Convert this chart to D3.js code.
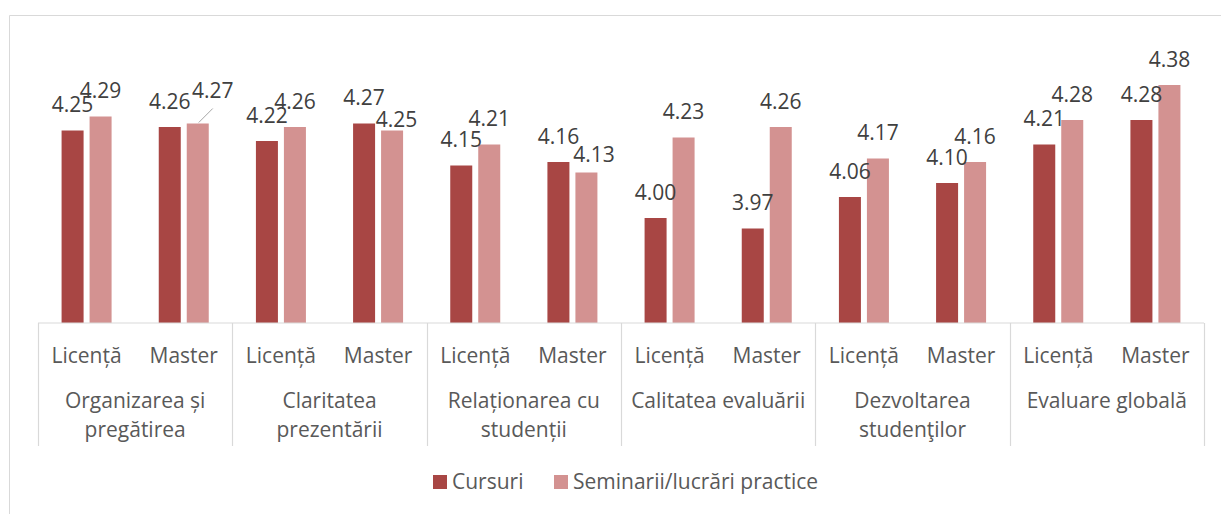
<!DOCTYPE html>
<html>
<head>
<meta charset="utf-8">
<script src="https://cdn.jsdelivr.net/npm/d3@7"></script>
<style>
  html, body { margin: 0; padding: 0; background: #fff; }
  svg { display: block; font-family: "Open Sans", sans-serif; }
</style>
</head>
<body>
<svg id="chart" width="1221" height="514"></svg>
<script>
// ---- data ----
const groups = ["Organizarea și\npregătirea", "Claritatea\nprezentării", "Relaționarea cu\nstudenții", "Calitatea evaluării", "Dezvoltarea\nstudenţilor", "Evaluare globală"];
const levels = ["Licență", "Master"];
const seriesNames = ["Cursuri", "Seminarii/lucrări practice"];
const cursuri   = [4.25, 4.26, 4.22, 4.27, 4.15, 4.16, 4.00, 3.97, 4.06, 4.10, 4.21, 4.28];
const seminarii = [4.29, 4.27, 4.26, 4.25, 4.21, 4.13, 4.23, 4.26, 4.17, 4.16, 4.28, 4.38];
const yDomain = [3.7, 4.4];

// ---- styling / layout ----
const colors = ["#A84644", "#D39291"];
const labelNudge = { "1-1": [15, -7.5, true], "1-3": [4.5, 14.5, false], "1-5": [7.5, 7.5, false] };
const fontSize = "21px";
const svg = d3.select("#chart");
const axisY = 323, left = 38, right = 1204;

// chart border
svg.append("path").attr("d", "M9.5,514 V15.5 H1221").attr("fill", "none").attr("stroke", "#D9D9D9").attr("stroke-width", 1);

const xGroup = d3.scaleBand().domain(d3.range(groups.length)).range([left, right]);
const xSub = d3.scaleBand().domain(levels).range([0, xGroup.bandwidth()]);
const y = d3.scaleLinear().domain(yDomain).range([axisY, 78]);

const series = [cursuri, seminarii];
const barsData = [];
series.forEach((vals, s) => vals.forEach((v, i) => {
  const g = Math.floor(i / 2), l = levels[i % 2];
  const c = xGroup(g) + xSub(l) + xSub.bandwidth() / 2;
  barsData.push({ s, i, v, c });
}));
const xSer = d3.scaleBand().domain([0, 1]).range([-25, 25]).paddingInner(0.214);

svg.append("g").selectAll("rect").data(barsData).join("rect")
  .attr("x", d => d.c + xSer(d.s))
  .attr("width", xSer.bandwidth())
  .attr("y", d => y(d.v))
  .attr("height", d => axisY - y(d.v))
  .attr("fill", d => colors[d.s]);

// data labels
const lab = svg.append("g").attr("font-size", fontSize).attr("fill", "#404040").attr("text-anchor", "middle");
barsData.forEach(d => {
  const bx = d.c + xSer(d.s) + xSer.bandwidth() / 2;
  const nudge = labelNudge[d.s + "-" + d.i] || [0, 0, false];
  const tx = bx + nudge[0], ty = y(d.v) - 18.5 + nudge[1];
  lab.append("text").attr("x", tx).attr("y", ty).text(d.v.toFixed(2));
  if (nudge[2]) {
    svg.append("line").attr("x1", bx + 1).attr("y1", y(d.v) - 1)
      .attr("x2", tx).attr("y2", ty + 11)
      .attr("stroke", "#A6A6A6").attr("stroke-width", 1);
  }
});

// axis
const ax = svg.append("g").attr("stroke", "#D9D9D9").attr("stroke-width", 1.2);
ax.append("line").attr("x1", left).attr("x2", right).attr("y1", axisY).attr("y2", axisY);
d3.range(groups.length + 1).forEach(k => {
  const xx = Math.round(left + k * xGroup.bandwidth()) + 0.5;
  ax.append("line").attr("x1", xx).attr("x2", xx).attr("y1", axisY).attr("y2", 446);
});

const cat = svg.append("g").attr("font-size", fontSize).attr("fill", "#595959").attr("text-anchor", "middle");
groups.forEach((gname, g) => {
  levels.forEach(l => {
    cat.append("text").attr("x", xGroup(g) + xSub(l) + xSub.bandwidth() / 2).attr("y", 363).text(l);
  });
  gname.split("\n").forEach((line, k) => {
    cat.append("text").attr("x", xGroup(g) + xGroup.bandwidth() / 2).attr("y", 408 + k * 29).text(line);
  });
});

// legend
const leg = svg.append("g");
const legX = [433, 554];
seriesNames.forEach((n, s) => {
  leg.append("rect").attr("x", legX[s]).attr("y", 475).attr("width", 14).attr("height", 14).attr("fill", colors[s]);
  leg.append("text").attr("x", legX[s] + 19).attr("y", 489).attr("font-size", fontSize).attr("fill", "#595959").text(n);
});
</script>
</body>
</html>
